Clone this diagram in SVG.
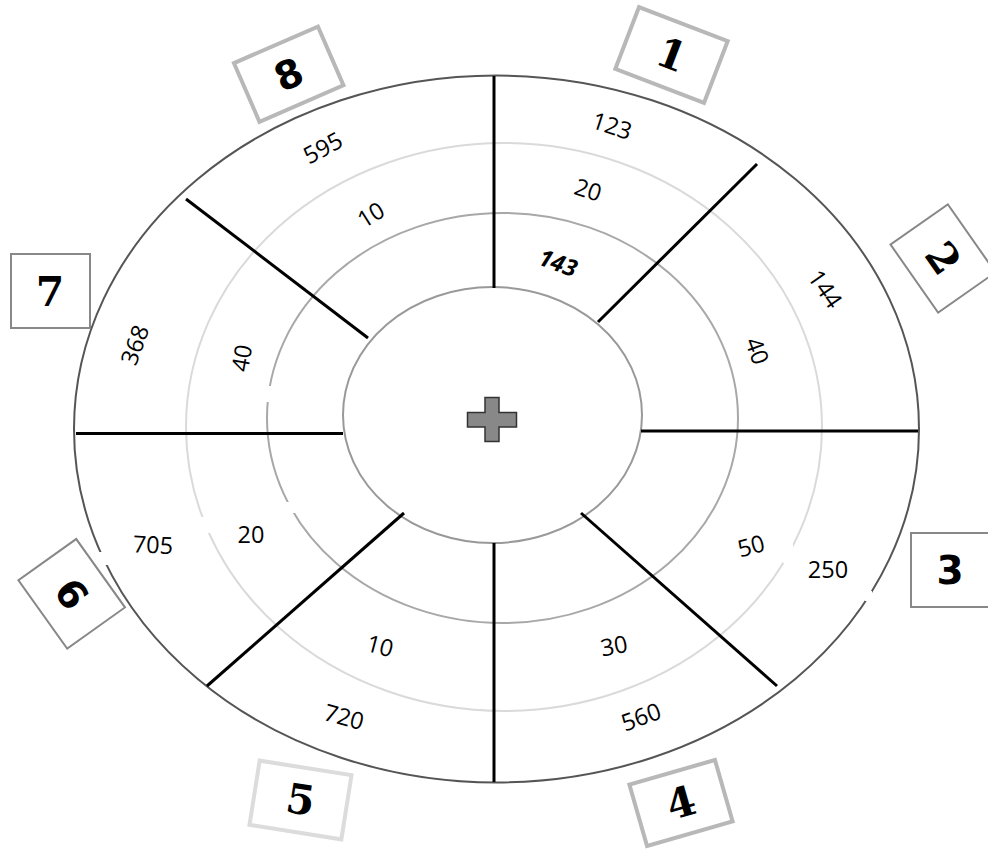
<svg xmlns="http://www.w3.org/2000/svg" width="988" height="850" viewBox="0 0 988 850">
<style>
.ring{fill:none;stroke-width:2}
.div{stroke:#000;stroke-width:3;stroke-linecap:butt}
.box{fill:#fff}
.thick{stroke:#b8b8b8;stroke-width:4}
.pale{stroke:#dcdcdc;stroke-width:4}
.thin{stroke:#888;stroke-width:2}
.num{font-family:"DejaVu Serif","Liberation Serif",serif;font-weight:bold;font-size:41px;fill:#000;text-anchor:middle}
.nums{font-family:"DejaVu Sans","Liberation Sans",sans-serif;font-weight:bold;font-size:39px;fill:#000;text-anchor:middle}
.lbl{font-family:"Open Sans","Noto Sans","DejaVu Sans",sans-serif;font-size:23.5px;fill:#000;text-anchor:middle}
.gap{fill:#fff}
</style>
<rect width="988" height="850" fill="#fff"/>
<g id="rings">
<ellipse class="ring" cx="504" cy="427" rx="318" ry="284" stroke="#dadada"/>
<ellipse class="ring" cx="502.5" cy="418" rx="235.5" ry="205" stroke="#a8a8a8"/>
<ellipse class="ring" cx="492.5" cy="415" rx="149.5" ry="128" stroke="#999"/>
<ellipse class="ring" cx="496.5" cy="429" rx="422.5" ry="353.5" stroke="#555"/>
</g>
<g id="gaps">
<rect class="gap" x="98" y="552" width="10" height="13"/>
<rect class="gap" x="865" y="591" width="7" height="10"/>
<rect class="gap" x="783" y="543" width="10" height="20"/>
<rect class="gap" x="199" y="517" width="11" height="16"/>
<rect class="gap" x="285" y="502" width="10" height="11"/>
<rect class="gap" x="264" y="386" width="7" height="16"/>
</g>
<g id="connectors">
<line class="div" x1="494" y1="76" x2="494" y2="288"/>
<line class="div" x1="494" y1="543" x2="494" y2="782"/>
<line class="div" x1="76" y1="433.5" x2="343" y2="433.5"/>
<line class="div" x1="641" y1="431" x2="918" y2="431"/>
<line class="div" x1="598" y1="322" x2="757" y2="164"/>
<line class="div" x1="186" y1="199" x2="368" y2="338"/>
<line class="div" x1="404" y1="513" x2="207" y2="686"/>
<line class="div" x1="581" y1="513" x2="777" y2="686"/>
</g>
<g id="center">
<path d="M485,397.5 H499 V412.5 H516.5 V427 H499 V441.5 H485 V427 H467.5 V412.5 H485 Z" fill="#888" stroke="#333" stroke-width="1.5"/>
</g>
<g id="labels">
<text class="lbl" transform="translate(612,126) rotate(18)" dy="0.35em">123</text>
<text class="lbl" transform="translate(588,190) rotate(18)" dy="0.35em">20</text>
<text class="lbl" transform="translate(558,263) rotate(20)" dy="0.35em" font-weight="bold" font-style="italic" font-size="22">143</text>
<text class="lbl" transform="translate(825,289) rotate(55)" dy="0.35em">144</text>
<text class="lbl" transform="translate(757,351) rotate(70)" dy="0.35em">40</text>
<text class="lbl" transform="translate(751,546) rotate(-15)" dy="0.35em">50</text>
<text class="lbl" transform="translate(828,570)" dy="0.35em" font-size="19">250</text>
<text class="lbl" transform="translate(614,646) rotate(-10)" dy="0.35em">30</text>
<text class="lbl" transform="translate(641,717) rotate(-20)" dy="0.35em">560</text>
<text class="lbl" transform="translate(344,717) rotate(15)" dy="0.35em">720</text>
<text class="lbl" transform="translate(380,646) rotate(15)" dy="0.35em">10</text>
<text class="lbl" transform="translate(251,535)" dy="0.35em">20</text>
<text class="lbl" transform="translate(153,545) rotate(3)" dy="0.35em">705</text>
<text class="lbl" transform="translate(135,345) rotate(-70)" dy="0.35em">368</text>
<text class="lbl" transform="translate(242,358) rotate(-80)" dy="0.35em">40</text>
<text class="lbl" transform="translate(323,148) rotate(-28)" dy="0.35em">595</text>
<text class="lbl" transform="translate(371,215) rotate(-32)" dy="0.35em">10</text>
</g>
<g id="node-1" transform="translate(671.5,55) rotate(21)">
<rect class="box thick" x="-47.5" y="-33" width="95" height="66"/>
<text class="num" y="14">1</text>
</g>
<g id="node-2" transform="translate(943,258.5) rotate(55)">
<rect class="box thin" x="-41.5" y="-35" width="83" height="70"/>
<text class="num" y="14">2</text>
</g>
<g id="node-3">
<rect class="box thin" x="911" y="533" width="80" height="74"/>
<text class="nums" x="950" y="584">3</text>
</g>
<g id="node-4" transform="translate(681,803) rotate(-16)">
<rect class="box thick" x="-44.5" y="-32" width="89" height="64"/>
<text class="num" y="14">4</text>
</g>
<g id="node-5" transform="translate(300.5,800) rotate(9)">
<rect class="box pale" x="-46.5" y="-32.5" width="93" height="65"/>
<text class="num" y="14">5</text>
</g>
<g id="node-6" transform="translate(71.7,593.8) rotate(54.5)">
<rect class="box thin" x="-42" y="-35.5" width="84" height="71"/>
<text class="nums" y="14">6</text>
</g>
<g id="node-7">
<rect class="box thin" x="11" y="254" width="79" height="74"/>
<text class="num" x="50" y="306">7</text>
</g>
<g id="node-8" transform="translate(288.7,74.2) rotate(-23.5)">
<rect class="box thick" x="-45.8" y="-32" width="91.6" height="64"/>
<text class="nums" y="14">8</text>
</g>
</svg>
